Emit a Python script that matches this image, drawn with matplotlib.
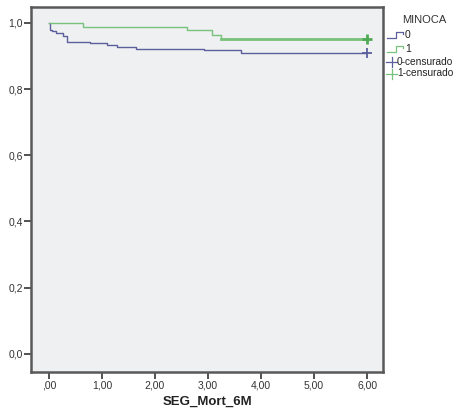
import matplotlib
matplotlib.use("Agg")
import matplotlib.pyplot as plt
from matplotlib.lines import Line2D

plt.rcParams['font.family'] = ['Liberation Sans', 'DejaVu Sans']

# Kaplan-Meier step data (time, survival)
times_0 = [0.0, 0.02, 0.05, 0.14, 0.27, 0.33, 0.77, 1.09, 1.28, 1.65, 2.92, 3.62, 6.0]
surv_0 = [1.0, 0.980, 0.974, 0.968, 0.960, 0.943, 0.938, 0.932, 0.927, 0.920, 0.917, 0.910, 0.910]
times_1 = [0.0, 0.64, 2.61, 3.08, 3.24, 6.0]
surv_1 = [1.0, 0.987, 0.977, 0.963, 0.952, 0.952]
censor_0 = ([6.0], [0.910])
censor_1 = ([6.0], [0.952])

xticks = [0, 1, 2, 3, 4, 5, 6]
xticklabels = [",00", "1,00", "2,00", "3,00", "4,00", "5,00", "6,00"]
yticks = [0.0, 0.2, 0.4, 0.6, 0.8, 1.0]
yticklabels = ["0,0", "0,2", "0,4", "0,6", "0,8", "1,0"]
legend_title = "MINOCA"
legend_labels = ["0", "1", "0-censurado", "1-censurado"]

c0 = "#5b5f9c"
c1 = "#79c27b"

fig = plt.figure(figsize=(4.59, 4.16), dpi=100)
ax = fig.add_axes([31/459, 1-372/416, (383-31)/459, (372-7)/416])
ax.set_facecolor("#eff0f2")

ax.step(times_0, surv_0, where="post", color=c0, lw=1.0)
ax.step(times_1, surv_1, where="post", color=c1, lw=1.0)
ax.plot(times_1[-2:], surv_1[-2:], color=c1, lw=2.0)
ax.plot(*censor_0, marker="+", color=c0, ms=7, mew=1.3, ls="none")
ax.plot(*censor_1, marker="+", color="#4faa55", ms=7, mew=2.0, ls="none")

ax.set_xlim(-0.34, 6.3)
ax.set_ylim(-0.055, 1.048)
ax.set_xticks(xticks)
ax.set_xticklabels(xticklabels)
ax.set_yticks(yticks)
ax.set_yticklabels(yticklabels)
ax.tick_params(direction="out", length=5, width=1.2, color="#333333",
               labelsize=7.5, labelcolor="#333333", pad=1)
for s in ax.spines.values():
    s.set_color("#595959")
    s.set_linewidth(1.8)
ax.set_xlabel("SEG_Mort_6M", fontsize=9.5, fontweight="bold", color="#222222", labelpad=4)

# Legend drawn manually outside the axes
W, H = 459, 416
def fx(px): return px / W
def fy(py): return 1 - py / H

fig.text(fx(424), fy(20), legend_title, fontsize=8, color="#333333", ha="center", va="center")
# step symbols
for i, (lab, col) in enumerate(zip(legend_labels[:2], [c0, c1])):
    y = 35 + 14 * i
    xs = [387, 396, 396, 403, 403]
    ys = [y + 3, y + 3, y - 3, y - 3, y - 1]
    fig.add_artist(Line2D([fx(v) for v in xs], [fy(v) for v in ys], color=col, lw=0.9))
    fig.text(fx(405), fy(y), lab, fontsize=7.5, color="#222222", va="center", ha="left")
for i, (lab, col) in enumerate(zip(legend_labels[2:], [c0, c1])):
    y = 62 + 11.5 * i
    fig.add_artist(Line2D([fx(386), fx(397)], [fy(y), fy(y)], color=col, lw=0.9))
    fig.add_artist(Line2D([fx(392), fx(392)], [fy(y - 5), fy(y + 5)], color=col, lw=0.9))
    fig.text(fx(397), fy(y), lab, fontsize=7.3, color="#222222", va="center", ha="left")

fig.savefig("out.png", dpi=100, facecolor="white")
